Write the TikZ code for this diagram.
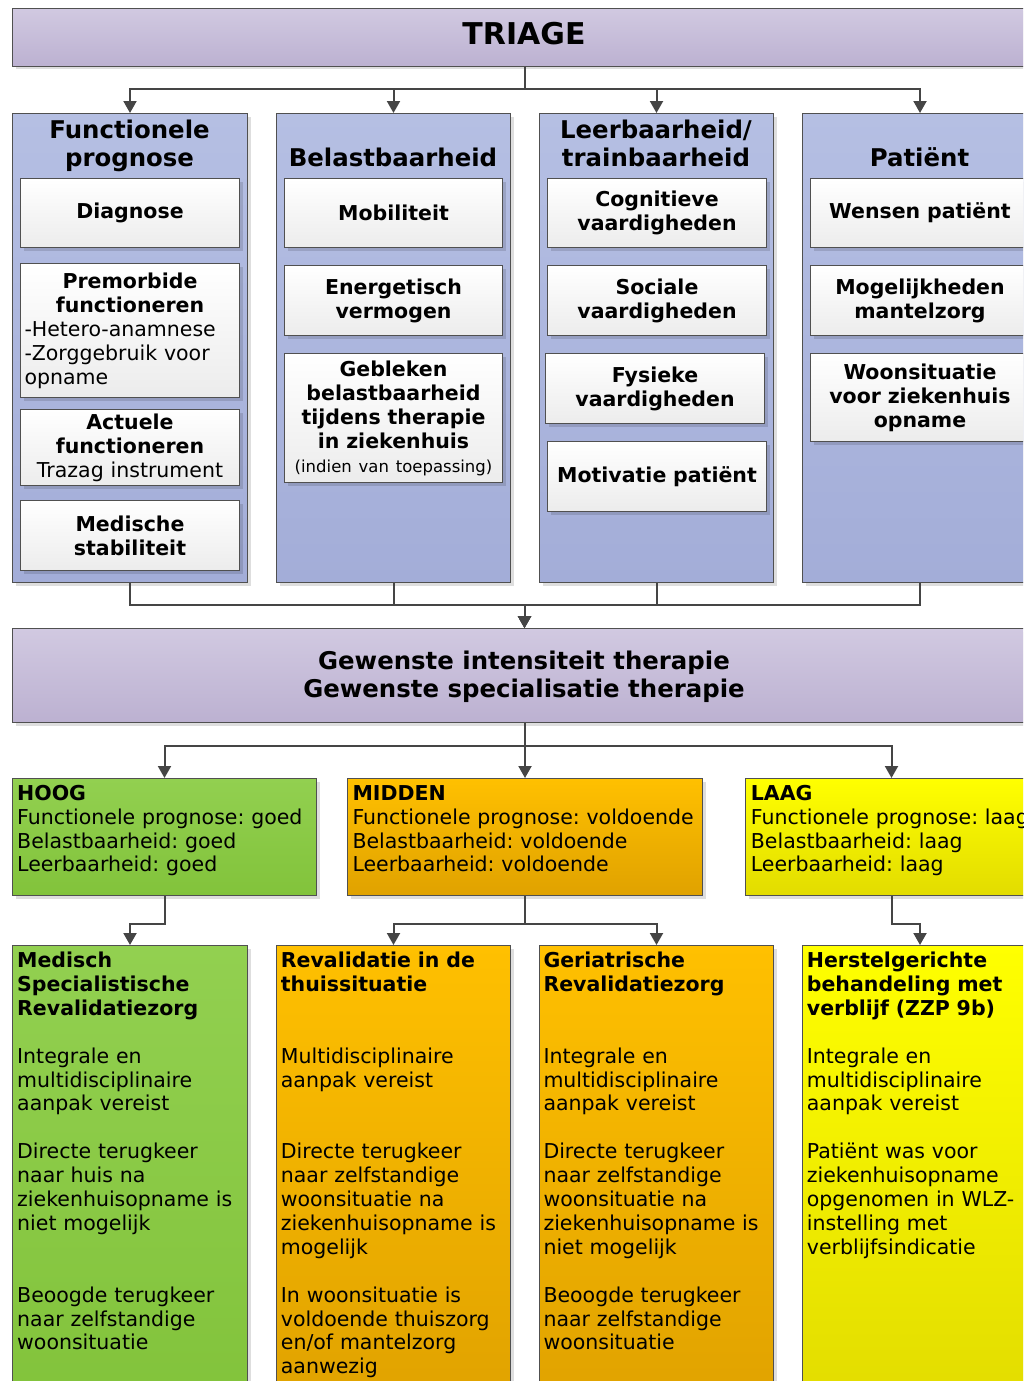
\documentclass[tikz,border=0pt]{standalone}
\usepackage{fontspec}
\setmainfont{DejaVu Sans}
\usetikzlibrary{arrows.meta,shadows}
\newcommand\myfs[2]{\fontsize{#1}{#2}\selectfont}
\definecolor{purT}{HTML}{D1C9E1}
\definecolor{purB}{HTML}{BCB1D1}
\definecolor{bluT}{HTML}{B5BFE3}
\definecolor{bluB}{HTML}{A3ADD8}
\definecolor{wB}{HTML}{ECECEC}
\definecolor{grnT}{HTML}{92D050}
\definecolor{grnB}{HTML}{82C33B}
\definecolor{orgT}{HTML}{FFC000}
\definecolor{orgB}{HTML}{E0A200}
\definecolor{yelT}{HTML}{FFFF00}
\definecolor{yelB}{HTML}{E2DC00}
\definecolor{linec}{HTML}{505050}
\definecolor{connc}{HTML}{454545}
\frenchspacing
\begin{document}
\begin{tikzpicture}[x=1pt,y=-1pt,
  box/.style={rectangle, draw=linec, line width=1pt, anchor=north west, inner sep=0pt,
    drop shadow={shadow xshift=3pt,shadow yshift=-3pt,fill=black,opacity=0.13}},
  hdr/.style={box, top color=purT, bottom color=purB},
  colbox/.style={box, top color=bluT, bottom color=bluB},
  wbox/.style={box, top color=white, bottom color=wB, inner sep=4pt, align=center,
    font=\myfs{20.5}{24}\bfseries},
  grnbox/.style={box, top color=grnT, bottom color=grnB},
  orgbox/.style={box, top color=orgT, bottom color=orgB},
  yelbox/.style={box, top color=yelT, bottom color=yelB},
  ttl/.style={anchor=north, align=center, inner sep=0pt, font=\myfs{24.4}{28.4}\bfseries},
  txt/.style={anchor=north west, align=left, inner sep=0pt, text width=360pt,
    font=\myfs{20.5}{23.9}},
  conn/.style={draw=connc, line width=2pt, -{Triangle[width=13pt,length=12pt]}}
]
\useasboundingbox (0,0) rectangle (1023,1381);
\fill[white] (0,0) rectangle (1023,1381);
\clip (0,0) rectangle (1023,1381);

% header
\node[hdr, minimum width=1024pt, minimum height=58pt] (triage) at (12,8) {};
\node[anchor=base, inner sep=0pt, font=\myfs{30}{36}\bfseries] (ttriage) at (524,45) {TRIAGE};

% columns
\node[colbox, minimum width=235pt, minimum height=469pt] (c1) at (12,113) {};
\node[colbox, minimum width=234pt, minimum height=469pt] (c2) at (276,113) {};
\node[colbox, minimum width=234pt, minimum height=469pt] (c3) at (539,113) {};
\node[colbox, minimum width=235pt, minimum height=469pt] (c4) at (802,113) {};

\node[ttl] (tc1) at (129.5,118.4) {\strut Functionele\\prognose};
\node[ttl] (tc2) at (393,146.8) {\strut Belastbaarheid};
\node[ttl] (tc3) at (656,118.4) {\strut Leerbaarheid/\\trainbaarheid};
\node[ttl] (tc4) at (919.5,146.8) {\strut Patiënt};

% column 1
\node[wbox, minimum width=219pt, minimum height=69pt, text width=211pt] (d1) at (20,178) {Diagnose};
\node[wbox, minimum width=219pt, minimum height=134pt, text width=211pt, align=left] (d2) at (20,263)
  {{\centering Premorbide\\functioneren\par}\mdseries -Hetero-anamnese\\-Zorggebruik voor\\opname};
\node[wbox, minimum width=219pt, minimum height=76pt, text width=211pt] (d3) at (20,409)
  {Actuele\\functioneren\\\mdseries Trazag instrument};
\node[wbox, minimum width=219pt, minimum height=70pt, text width=211pt] (d4) at (20,500) {Medische\\stabiliteit};

% column 2
\node[wbox, minimum width=218pt, minimum height=69pt, text width=210pt] (e1) at (284,178) {Mobiliteit};
\node[wbox, minimum width=218pt, minimum height=70pt, text width=210pt] (e2) at (284,265) {Energetisch\\vermogen};
\node[wbox, minimum width=218pt, minimum height=129pt, text width=210pt] (e3) at (284,353)
  {Gebleken\\belastbaarheid\\tijdens therapie\\in ziekenhuis\\{\mdseries\myfs{16.5}{23}(indien van toepassing)}};

% column 3
\node[wbox, minimum width=219pt, minimum height=69pt, text width=211pt] (f1) at (547,178) {Cognitieve\\vaardigheden};
\node[wbox, minimum width=219pt, minimum height=70pt, text width=211pt] (f2) at (547,265) {Sociale\\vaardigheden};
\node[wbox, minimum width=219pt, minimum height=70pt, text width=211pt] (f3) at (545,353) {Fysieke\\vaardigheden};
\node[wbox, minimum width=219pt, minimum height=70pt, text width=211pt] (f4) at (547,441) {Motivatie patiënt};

% column 4
\node[wbox, minimum width=219pt, minimum height=69pt, text width=211pt] (g1) at (810,178) {Wensen patiënt};
\node[wbox, minimum width=219pt, minimum height=70pt, text width=211pt] (g2) at (810,265) {Mogelijkheden\\mantelzorg};
\node[wbox, minimum width=219pt, minimum height=88pt, text width=211pt] (g3) at (810,353) {Woonsituatie\\voor ziekenhuis\\opname};

% gewenste
\node[hdr, minimum width=1024pt, minimum height=94pt] (gew) at (12,628) {};
\node[ttl] (tgew) at (524,649.4) {\strut Gewenste intensiteit therapie\\Gewenste specialisatie therapie};

% levels
\node[grnbox, minimum width=304pt, minimum height=117pt] (hoog) at (12,778) {};
\node[orgbox, minimum width=355pt, minimum height=117pt] (midden) at (347,778) {};
\node[yelbox, minimum width=292pt, minimum height=117pt] (laag) at (745,778) {};
\node[txt] (thoog) at (17,783.3) {\strut{\bfseries HOOG}\\Functionele prognose: goed\\Belastbaarheid: goed\\Leerbaarheid: goed};
\node[txt] (tmidden) at (352.3,783.3) {\strut{\bfseries MIDDEN}\\Functionele prognose: voldoende\\Belastbaarheid: voldoende\\Leerbaarheid: voldoende};
\node[txt] (tlaag) at (750.7,783.3) {\strut{\bfseries LAAG}\\Functionele prognose: laag\\Belastbaarheid: laag\\Leerbaarheid: laag};

% bottom boxes
\node[grnbox, minimum width=235pt, minimum height=460pt] (b1) at (12,945) {};
\node[orgbox, minimum width=234pt, minimum height=460pt] (b2) at (276,945) {};
\node[orgbox, minimum width=234pt, minimum height=460pt] (b3) at (539,945) {};
\node[yelbox, minimum width=235pt, minimum height=460pt] (b4) at (802,945) {};

\node[txt] (tb1) at (17,950.6) {\strut{\bfseries Medisch\\Specialistische\\Revalidatiezorg}\\[23.9pt]
  Integrale en\\multidisciplinaire\\aanpak vereist\\[23.9pt]
  Directe terugkeer\\naar huis na\\ziekenhuisopname is\\niet mogelijk\\[47.8pt]
  Beoogde terugkeer\\naar zelfstandige\\woonsituatie};
\node[txt] (tb2) at (280.7,950.6) {\strut{\bfseries Revalidatie in de\\thuissituatie}\\[47.8pt]
  Multidisciplinaire\\aanpak vereist\\[47.8pt]
  Directe terugkeer\\naar zelfstandige\\woonsituatie na\\ziekenhuisopname is\\mogelijk\\[23.9pt]
  In woonsituatie is\\voldoende thuiszorg\\en/of mantelzorg\\aanwezig};
\node[txt] (tb3) at (543.3,950.6) {\strut{\bfseries Geriatrische\\Revalidatiezorg}\\[47.8pt]
  Integrale en\\multidisciplinaire\\aanpak vereist\\[23.9pt]
  Directe terugkeer\\naar zelfstandige\\woonsituatie na\\ziekenhuisopname is\\niet mogelijk\\[23.9pt]
  Beoogde terugkeer\\naar zelfstandige\\woonsituatie};
\node[txt] (tb4) at (806.7,950.6) {\strut{\bfseries Herstelgerichte\\behandeling met\\verblijf (ZZP 9b)}\\[23.9pt]
  Integrale en\\multidisciplinaire\\aanpak vereist\\[23.9pt]
  Patiënt was voor\\ziekenhuisopname\\opgenomen in WLZ-\\instelling met\\verblijfsindicatie};

% connectors
\foreach \c in {c1,c2,c3,c4}{
  \draw[conn] (triage.south) -- ++(0,22) -| (\c.north);
  \draw[conn] (\c.south) -- ++(0,22) -| (gew.north);
}
\foreach \c in {hoog,midden,laag}{
  \draw[conn] (gew.south) -- ++(0,23) -| (\c.north);
}
\draw[conn] (hoog.south) -- ++(0,28) -| (b1.north);
\draw[conn] (midden.south) -- ++(0,28) -| (b2.north);
\draw[conn] (midden.south) -- ++(0,28) -| (b3.north);
\draw[conn] (laag.south) -- ++(0,28) -| (b4.north);
\end{tikzpicture}
\end{document}
